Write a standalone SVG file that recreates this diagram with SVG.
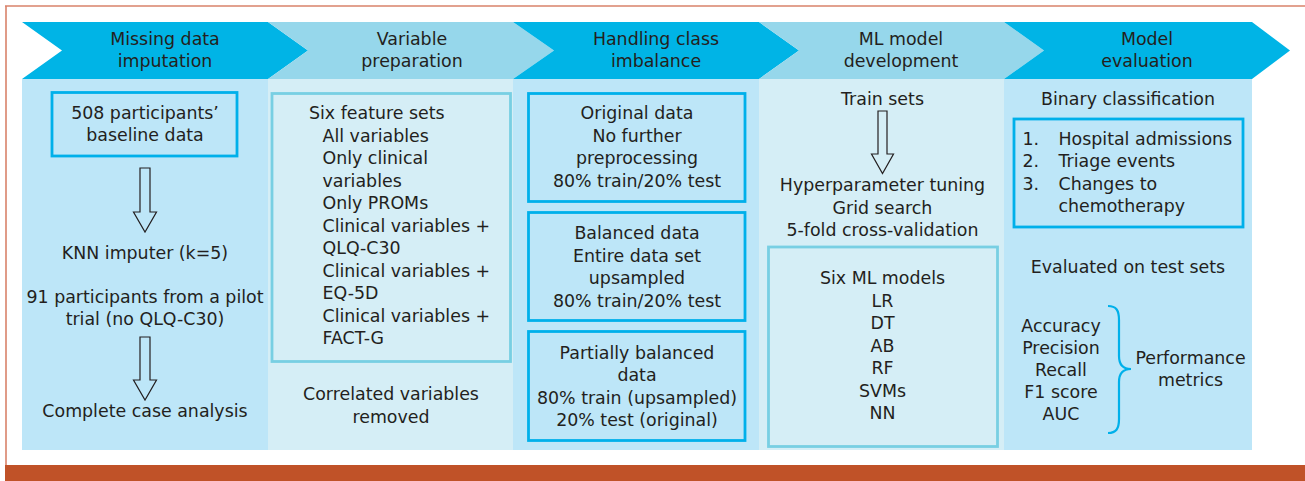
<svg xmlns="http://www.w3.org/2000/svg" width="1305" height="481" viewBox="0 0 1305 481">
<style>
text{font-family:"DejaVu Sans","Liberation Sans",sans-serif;font-size:17.4px;fill:#231f20}
.c{text-anchor:middle}
.bright{fill:#00b4e6}
.light{fill:#96d7eb}
.colA{fill:#bde6f8}
.colB{fill:#d5eef6}
.boxA{fill:none;stroke:#00b0ea;stroke-width:2.8}
.boxB{fill:none;stroke:#78cfe3;stroke-width:2.8}
.arrow{fill:none;stroke:#231f20;stroke-width:1.2;stroke-linejoin:miter}
.brace{fill:none;stroke:#00b0ea;stroke-width:2.2}
</style>
<rect x="0" y="0" width="1305" height="481" fill="#ffffff"/>
<g id="frame">
<line x1="5" y1="6" x2="1305" y2="6" stroke="#d9826a" stroke-width="1.6"/>
<line x1="6" y1="6" x2="6" y2="465" stroke="#d9826a" stroke-width="1.6"/>
<rect x="5" y="465" width="1300" height="16" fill="#c05228"/>
</g>
<g id="columns">
<rect class="colA" x="22" y="79" width="246" height="371"/>
<rect class="colB" x="268" y="79" width="245" height="371"/>
<rect class="colA" x="513" y="79" width="246" height="371"/>
<rect class="colB" x="759" y="79" width="245" height="371"/>
<rect class="colA" x="1004" y="79" width="248" height="371"/>
</g>
<g id="header1">
<polygon class="bright" points="22,22 268,22 308,50.5 268,79 22,79 62,50.5"/>
<text class="c" x="165" y="45">Missing data</text>
<text class="c" x="165" y="67">imputation</text>
</g>
<g id="header2">
<polygon class="light" points="268,22 513,22 554,50.5 513,79 268,79 308,50.5"/>
<text class="c" x="412" y="45">Variable</text>
<text class="c" x="412" y="67">preparation</text>
</g>
<g id="header3">
<polygon class="bright" points="513,22 759,22 799,50.5 759,79 513,79 554,50.5"/>
<text class="c" x="656" y="45">Handling class</text>
<text class="c" x="656" y="67">imbalance</text>
</g>
<g id="header4">
<polygon class="light" points="759,22 1004,22 1044,50.5 1004,79 759,79 799,50.5"/>
<text class="c" x="901" y="45">ML model</text>
<text class="c" x="901" y="67">development</text>
</g>
<g id="header5">
<polygon class="bright" points="1004,22 1252,22 1290,50.5 1252,79 1004,79 1044,50.5"/>
<text class="c" x="1147" y="45">Model</text>
<text class="c" x="1147" y="67">evaluation</text>
</g>
<g id="baseline-box">
<rect class="boxA" x="52" y="92.5" width="185" height="63.5"/>
<text class="c" x="145" y="119">508 participants’</text>
<text class="c" x="145" y="141">baseline data</text>
</g>
<g id="knn">
<text class="c" x="145" y="259">KNN imputer (k=5)</text>
</g>
<g id="pilot">
<text class="c" x="145" y="303">91 participants from a pilot</text>
<text class="c" x="145" y="325">trial (no QLQ-C30)</text>
</g>
<g id="complete-case">
<text class="c" x="145" y="417">Complete case analysis</text>
</g>
<g id="feature-sets">
<rect class="boxB" x="272" y="93.5" width="238.5" height="268"/>
<text x="309" y="119">Six feature sets</text>
<text x="322.5" y="141.5">All variables</text>
<text x="322.5" y="164">Only clinical</text>
<text x="322.5" y="186.5">variables</text>
<text x="322.5" y="209">Only PROMs</text>
<text x="322.5" y="231.5">Clinical variables +</text>
<text x="322.5" y="254">QLQ-C30</text>
<text x="322.5" y="276.5">Clinical variables +</text>
<text x="322.5" y="299">EQ-5D</text>
<text x="322.5" y="321.5">Clinical variables +</text>
<text x="322.5" y="344">FACT-G</text>
</g>
<g id="correlated">
<text class="c" x="391" y="400">Correlated variables</text>
<text class="c" x="391" y="422.5">removed</text>
</g>
<g id="original-data">
<rect class="boxA" x="528.5" y="93.5" width="216.5" height="108"/>
<text class="c" x="637" y="119">Original data</text>
<text class="c" x="637" y="141.5">No further</text>
<text class="c" x="637" y="164">preprocessing</text>
<text class="c" x="637" y="186.5">80% train/20% test</text>
</g>
<g id="balanced-data">
<rect class="boxA" x="528.5" y="212.5" width="216.5" height="108"/>
<text class="c" x="637" y="239">Balanced data</text>
<text class="c" x="637" y="261.5">Entire data set</text>
<text class="c" x="637" y="284">upsampled</text>
<text class="c" x="637" y="306.5">80% train/20% test</text>
</g>
<g id="partial-data">
<rect class="boxA" x="528.5" y="331.5" width="216.5" height="109"/>
<text class="c" x="637" y="358.5">Partially balanced</text>
<text class="c" x="637" y="381">data</text>
<text class="c" x="637" y="403.5">80% train (upsampled)</text>
<text class="c" x="637" y="426">20% test (original)</text>
</g>
<g id="train-sets">
<text class="c" x="882.5" y="105">Train sets</text>
</g>
<g id="tuning">
<text class="c" x="882.5" y="191">Hyperparameter tuning</text>
<text class="c" x="882.5" y="213.5">Grid search</text>
<text class="c" x="882.5" y="236">5-fold cross-validation</text>
</g>
<g id="ml-models">
<rect class="boxB" x="768.5" y="247" width="229" height="199.5"/>
<text class="c" x="882.5" y="284">Six ML models</text>
<text class="c" x="882.5" y="306.5">LR</text>
<text class="c" x="882.5" y="329">DT</text>
<text class="c" x="882.5" y="351.5">AB</text>
<text class="c" x="882.5" y="374">RF</text>
<text class="c" x="882.5" y="396.5">SVMs</text>
<text class="c" x="882.5" y="419">NN</text>
</g>
<g id="binary">
<text class="c" x="1128" y="105">Binary classification</text>
<rect class="boxA" x="1014" y="119" width="229" height="108"/>
<text x="1022.5" y="144.5">1.</text>
<text x="1058.5" y="144.5">Hospital admissions</text>
<text x="1022.5" y="167">2.</text>
<text x="1058.5" y="167">Triage events</text>
<text x="1022.5" y="189.5">3.</text>
<text x="1058.5" y="189.5">Changes to</text>
<text x="1058.5" y="212">chemotherapy</text>
</g>
<g id="evaluated">
<text class="c" x="1128" y="273">Evaluated on test sets</text>
</g>
<g id="metrics">
<text class="c" x="1061" y="331.5">Accuracy</text>
<text class="c" x="1061" y="353.5">Precision</text>
<text class="c" x="1061" y="375.5">Recall</text>
<text class="c" x="1061" y="397.5">F1 score</text>
<text class="c" x="1061" y="419.5">AUC</text>
<path class="brace" d="M1108,306 C1116,306 1119,310 1119,320 L1119,356 C1119,365 1123,369 1131,369 C1123,369 1119,373 1119,382 L1119,419 C1119,429 1116,433 1108,433"/>
<text class="c" x="1190.5" y="363.5">Performance</text>
<text class="c" x="1190.5" y="385.5">metrics</text>
</g>
<g id="connectors">
<polygon class="arrow" points="140,168 150,168 150,212 156.5,212 145,232 133.5,212 140,212"/>
<polygon class="arrow" points="140,337 150,337 150,380 156.5,380 145,400 133.5,380 140,380"/>
<polygon class="arrow" points="878,111 887,111 887,154 893.5,154 882.5,173.5 871.5,154 878,154"/>
</g>
</svg>
